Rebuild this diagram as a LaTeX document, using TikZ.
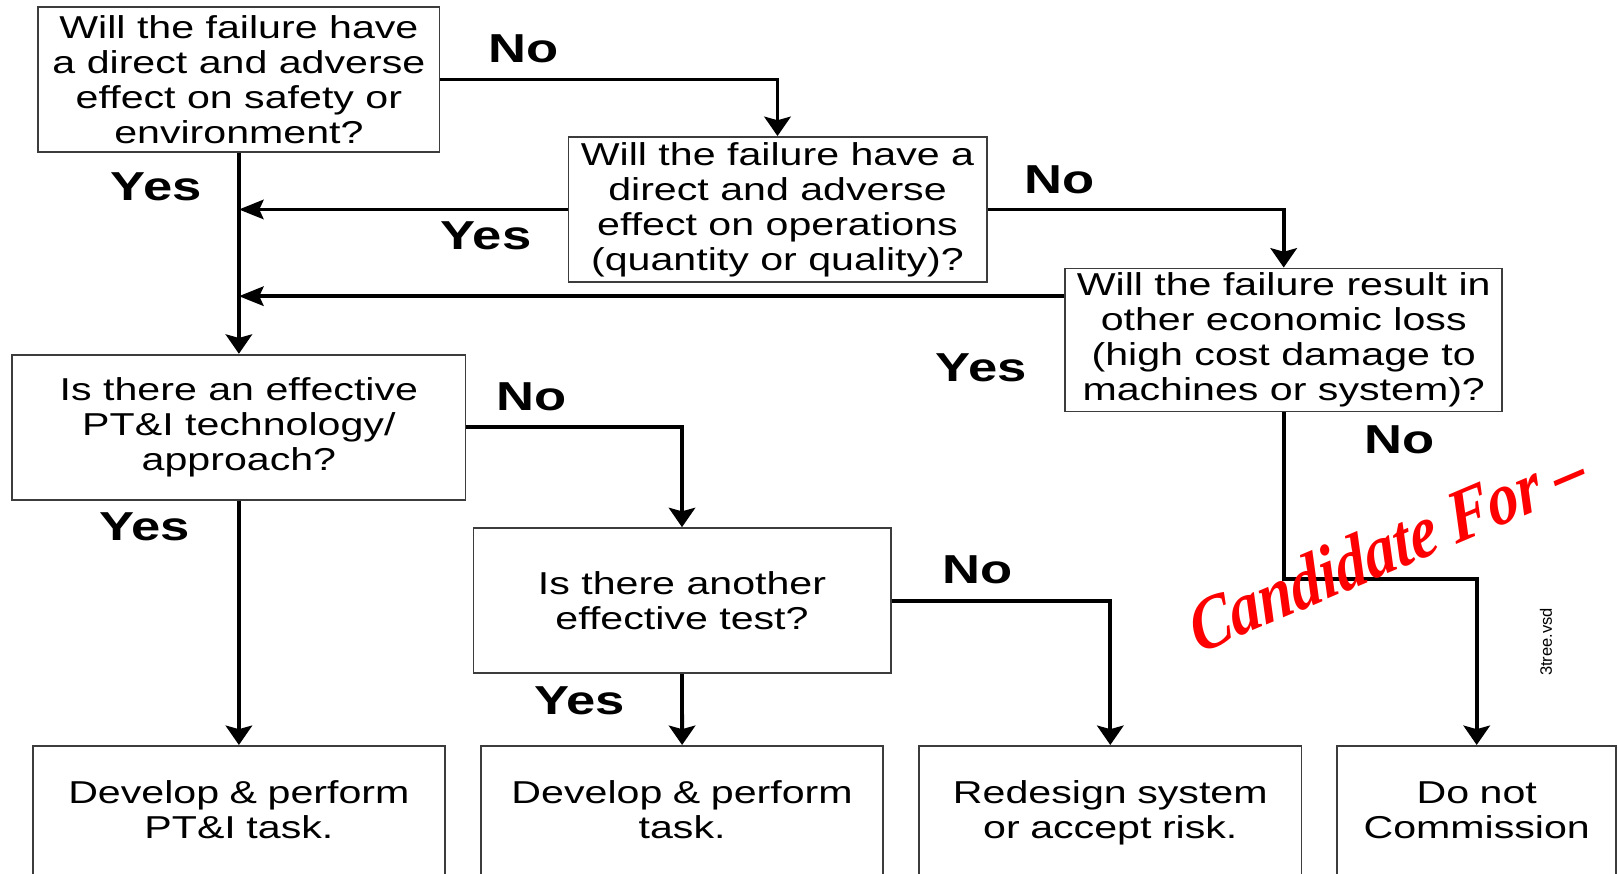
\documentclass[tikz,border=0pt]{standalone}
\usepackage{fontspec}
\setmainfont{Liberation Sans}
\newfontfamily\widesf[FakeStretch=1.3]{Liberation Sans}
\newfontfamily\brushfont[FakeStretch=0.85,FakeSlant=0.12]{Liberation Serif}
\usetikzlibrary{arrows.meta,positioning,calc}
\definecolor{stampred}{RGB}{255,0,0}
\definecolor{boxline}{RGB}{60,60,60}
\tikzset{quest/.style={draw=boxline,line width=0.5pt,align=center,inner xsep=2pt,inner ysep=0pt,font=\widesf\fontsize{9}{9.96}\selectfont},outc/.style={draw=boxline,line width=0.5pt,anchor=north,align=center,inner xsep=0pt,inner ysep=10pt,text height=6.5pt,text depth=60pt,font=\widesf\fontsize{9}{9.7}\selectfont},ans/.style={font=\widesf\bfseries\fontsize{11.5}{13}\selectfont,inner sep=0pt},flow/.style={-{Stealth[length=5.5pt,width=7.5pt,inset=1pt]},line width=1.1pt},back/.style={-{Stealth[length=7pt,width=5.5pt,inset=1.2pt]},line width=1.1pt},line/.style={line width=1.1pt}}

\begin{document}
\begin{tikzpicture}[x=0.01cm,y=-0.01cm]
\useasboundingbox (0,0) rectangle (1618,874);
\clip (0,0) rectangle (1618,874);
% questions
\node[quest,minimum width=4.01cm,minimum height=1.45cm] (safe) at (238.9,79.5) {Will the failure have\\a direct and adverse\\effect on safety or\\environment?};
\node[quest,minimum width=4.18cm,minimum height=1.45cm] (oper) at (777.5,209.5) {Will the failure have a\\direct and adverse\\effect on operations\\(quantity or quality)?};
\node[quest,minimum width=4.37cm,minimum height=1.43cm] (econ) at (1283.7,340) {Will the failure result in\\other economic loss\\(high cost damage to\\machines or system)?};
\node[quest,minimum width=4.53cm,minimum height=1.45cm] (ptitech) at (238.9,427.2) {Is there an effective\\PT\&I technology/\\approach?};
\node[quest,minimum width=4.17cm,minimum height=1.45cm] (othtest) at (682,600.6) {Is there another\\effective test?};
% outcomes
\node[outc,text width=4.12cm] (ptitask) at (238.9,745) {Develop \& perform\\PT\&I task.};
\node[outc,text width=4.02cm] (task) at (682.1,745) {Develop \& perform\\task.};
\node[outc,text width=3.82cm] (redes) at (1110.3,745) {Redesign system\\or accept risk.};
\node[outc,text width=2.79cm] (nocomm) at (1476.7,745) {Do not\\Commission};
% connectors
\draw[flow] (safe.south) -- (ptitech.north);
\draw[back] (oper.west) -- (oper.west -| safe.south);
\draw[back] ($(econ.west)+(0,-43.8)$) coordinate (econout) -- (econout -| safe.south);
\draw[flow] (safe.east) -| (oper.north);
\draw[flow] (oper.east) -| (econ.north);
\draw[flow] (econ.south) -- ++(0,167) -| (nocomm.north);
\draw[flow] (ptitech.south) -- (ptitask.north);
\draw[flow] (ptitech.east) -| (othtest.north);
\draw[flow] (othtest.south) -- (task.north);
\draw[flow] (othtest.east) -| (redes.north);
% answers
\node[ans] (no1) at (523.7,49) {No};
\node[ans] (yes1) at (156.3,186.8) {Yes};
\node[ans] (yes2) at (486,236.3) {Yes};
\node[ans] (no2) at (1059.8,179.6) {No};
\node[ans] (yes3) at (981.3,367.4) {Yes};
\node[ans] (no3) at (1399.3,439.6) {No};
\node[ans] (no4) at (531.4,396.3) {No};
\node[ans] (yes4) at (144.5,526.3) {Yes};
\node[ans] (no5) at (977.2,569.6) {No};
\node[ans] (yes5) at (579.9,700.7) {Yes};
% stamp and file name
\node[text=stampred,rotate=23,inner sep=0pt,font=\brushfont\bfseries\itshape\fontsize{21}{23}\selectfont] (stamp) at (1384,548) {Candidate For \textendash};
\node[rotate=90,font=\fontsize{4.7}{5}\selectfont,inner sep=0pt] (fname) at (1546,642) {3tree.vsd};
\end{tikzpicture}
\end{document}
